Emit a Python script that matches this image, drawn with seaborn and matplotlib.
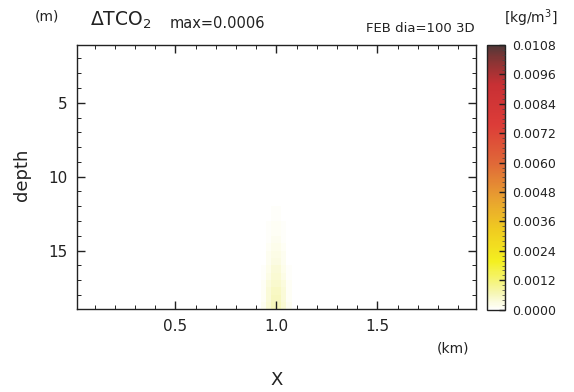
import numpy as np
import pandas as pd
import seaborn as sns
import matplotlib.pyplot as plt
from matplotlib.colors import LinearSegmentedColormap
from matplotlib.ticker import MultipleLocator, FixedLocator

sns.set_theme(style="white")
plt.rcParams['font.family'] = ['DejaVu Sans']

# ---- data ----
x_step = 0.025            # km, grid cell width
d_step = 0.5              # m, grid cell height
x_centers = np.arange(0.0125, 2.0, x_step)        # 80 columns
depth_centers = np.arange(1.25, 19.0, d_step)     # 36 rows

plume_x = [0.9375, 0.9625, 0.9875, 1.0125, 1.0375, 1.0625]
plume_depth = [12.25, 12.75, 13.25, 13.75, 14.25, 14.75, 15.25,
               15.75, 16.25, 16.75, 17.25, 17.75, 18.25, 18.75]
plume_vals = [
    [0.00000, 0.00003, 0.00005, 0.00005, 0.00003, 0.00000],
    [0.00000, 0.00004, 0.00007, 0.00007, 0.00004, 0.00000],
    [0.00000, 0.00005, 0.00009, 0.00009, 0.00005, 0.00000],
    [0.00001, 0.00006, 0.00012, 0.00012, 0.00006, 0.00001],
    [0.00001, 0.00008, 0.00016, 0.00016, 0.00008, 0.00001],
    [0.00002, 0.00010, 0.00020, 0.00020, 0.00010, 0.00002],
    [0.00003, 0.00013, 0.00024, 0.00024, 0.00013, 0.00003],
    [0.00004, 0.00016, 0.00029, 0.00029, 0.00016, 0.00004],
    [0.00005, 0.00020, 0.00034, 0.00034, 0.00020, 0.00005],
    [0.00007, 0.00025, 0.00040, 0.00040, 0.00025, 0.00007],
    [0.00009, 0.00030, 0.00046, 0.00046, 0.00030, 0.00009],
    [0.00011, 0.00034, 0.00052, 0.00052, 0.00034, 0.00011],
    [0.00012, 0.00037, 0.00057, 0.00057, 0.00037, 0.00012],
    [0.00013, 0.00039, 0.00060, 0.00060, 0.00039, 0.00013],
]

x_ticks = [0.5, 1.0, 1.5]
depth_ticks = [5, 10, 15]
cbar_ticks = [0.0000, 0.0012, 0.0024, 0.0036, 0.0048, 0.0060,
              0.0072, 0.0084, 0.0096, 0.0108]
vmin, vmax = 0.0, 0.0108

# build field table
field = pd.DataFrame(0.0, index=np.round(depth_centers, 3), columns=np.round(x_centers, 4))
for i, d in enumerate(plume_depth):
    for j, xv in enumerate(plume_x):
        field.loc[round(d, 3), round(xv, 4)] = plume_vals[i][j]

cmap = LinearSegmentedColormap.from_list("tco2", [
    (0.00, "#ffffff"),
    (0.06, "#f6f6b4"),
    (0.18, "#f4f020"),
    (0.30, "#f0cc20"),
    (0.42, "#e8a030"),
    (0.55, "#e06a38"),
    (0.70, "#dc3c38"),
    (0.85, "#c83034"),
    (0.94, "#8a3434"),
    (1.00, "#503838"),
])

# ---- figure ----
fig = plt.figure(figsize=(5.74, 3.92), dpi=100)
ax = fig.add_axes([0.134, 0.212, 0.695, 0.673])
cax = fig.add_axes([0.849, 0.210, 0.031, 0.675])

sns.heatmap(field, ax=ax, cbar_ax=cax, cmap=cmap, vmin=vmin, vmax=vmax,
            xticklabels=False, yticklabels=False,
            cbar_kws={"ticks": cbar_ticks})
ax.set_axisbelow(False)
cax.set_axisbelow(False)

def xpos(v):
    return (v - 0.0) / x_step

def ypos(v):
    return (v - 1.0) / d_step

ax.set_xlim(xpos(0.0125), xpos(1.9875))
ax.set_ylim(ypos(18.95), ypos(1.1))

ax.set_xticks([xpos(v) for v in x_ticks])
ax.set_xticklabels([f"{v:.1f}" for v in x_ticks])
ax.xaxis.set_minor_locator(FixedLocator([xpos(v) for v in np.arange(0.1, 2.0, 0.1)]))
ax.set_yticks([ypos(v) for v in depth_ticks])
ax.set_yticklabels([str(v) for v in depth_ticks])
ax.yaxis.set_minor_locator(FixedLocator([ypos(v) for v in range(2, 19)]))
ax.tick_params(axis='both', which='major', direction='in', length=6, width=1,
               top=True, right=True, bottom=True, left=True,
               labelsize=11, colors='#222222', pad=7)
ax.tick_params(axis='both', which='minor', direction='in', length=3, width=0.7,
               top=True, right=True, bottom=True, left=True, colors='#222222')
for s in ax.spines.values():
    s.set_visible(True)
    s.set_color('#222222')
    s.set_linewidth(1.0)
ax.set_xlabel("")
ax.set_ylabel("")

# colorbar styling
cb = ax.collections[0].colorbar
cb.outline.set_visible(True)
cb.outline.set_edgecolor('#222222')
cb.outline.set_linewidth(1.0)
cax.yaxis.set_major_formatter(plt.FuncFormatter(lambda v, p: f"{v:.4f}"))
cax.yaxis.set_minor_locator(MultipleLocator(0.0002))
cax.tick_params(which='major', direction='in', length=4, width=1, labelsize=9,
                colors='#222222', pad=5, right=True)
cax.tick_params(which='minor', direction='in', length=2, width=0.5,
                colors='#444444', right=True)

# texts
fig.text(47/574, 1 - 17/392, "(m)", fontsize=10, ha='center', va='center', color='#222222')
fig.text(90/574, 1 - 20/392, r"$\mathregular{\Delta TCO_2}$", fontsize=13.5,
         ha='left', va='center', color='#222222')
fig.text(170/574, 1 - 24/392, "max=0.0006", fontsize=10.5, ha='left', va='center', color='#222222')
fig.text(475/574, 1 - 29/392, "FEB dia=100 3D", fontsize=9.5, ha='right', va='center', color='#222222')
fig.text(531/574, 1 - 18/392, r"[kg/m$^\mathregular{3}$]", fontsize=10, ha='center', va='center', color='#222222')
fig.text(22/574, 1 - 175/392, "depth", fontsize=13, rotation=90, ha='center', va='center', color='#222222')
fig.text(453/574, 1 - 349/392, "(km)", fontsize=10, ha='center', va='center', color='#222222')
fig.text(277/574, 1 - 380/392, "X", fontsize=13, ha='center', va='center', color='#222222')

fig.savefig("out.png", dpi=100, facecolor='white')
